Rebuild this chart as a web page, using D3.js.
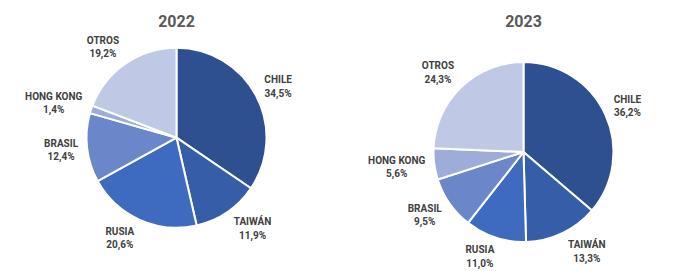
<!DOCTYPE html>
<html>
<head>
<meta charset="utf-8">
<script src="https://cdn.jsdelivr.net/npm/d3@7"></script>
<style>
  body { margin: 0; background: #fff; }
  svg { display: block; }
  .title { font-family: Roboto, "Liberation Sans", sans-serif; font-weight: bold; font-size: 16px; fill: #595959; }
  .lbl { font-family: Roboto, "Liberation Sans", sans-serif; font-weight: bold; font-size: 10px; fill: #404040; }
</style>
</head>
<body>
<svg id="chart" width="700" height="271"></svg>
<script>
var categories = ["CHILE", "TAIWÁN", "RUSIA", "BRASIL", "HONG KONG", "OTROS"];
var years = ["2022", "2023"];
var values2022 = [34.5, 11.9, 20.6, 12.4, 1.4, 19.2];
var values2023 = [36.2, 13.3, 11.0, 9.5, 5.6, 24.3];
var colors = ["#2e5090", "#365ea8", "#3e6bbf", "#6b87c9", "#9dacd9", "#bfc9e6"];

var svg = d3.select("#chart");
var radius = 90;

// layout of the two plot areas
var xs = d3.scalePoint().domain(years).range([176.5, 523.5]);
var cys = { "2022": 137.7, "2023": 152 };
var titleY = 27;

var color = d3.scaleOrdinal().domain(categories).range(colors);
var pie = d3.pie().sort(null).value(function(d) { return d.value; });
var arc = d3.arc().innerRadius(0).outerRadius(radius);

var fmt = function(v) { return v.toFixed(1).replace(".", ",") + "%"; };

var pad = 6, kx = 2.5, ky = 1, lineGap = 13.5;

function drawPie(year, values) {
  var cx = xs(year), cy = cys[year];
  var data = categories.map(function(c, i) { return { name: c, value: values[i] }; });

  svg.append("text")
    .attr("class", "title")
    .attr("x", cx)
    .attr("y", titleY)
    .attr("text-anchor", "middle")
    .text(year);

  var g = svg.append("g").attr("transform", "translate(" + cx + "," + cy + ")");

  var arcs = pie(data);

  g.selectAll("path")
    .data(arcs)
    .enter().append("path")
    .attr("d", arc)
    .attr("fill", function(d) { return color(d.data.name); })
    .attr("stroke", "#fff")
    .attr("stroke-width", 2)
    .attr("stroke-linejoin", "round");

  var labels = g.selectAll("g.label")
    .data(arcs)
    .enter().append("g")
    .attr("class", "label");

  labels.append("text")
    .attr("class", "lbl")
    .attr("text-anchor", "middle")
    .attr("y", -lineGap / 2 + 3.6)
    .text(function(d) { return d.data.name; });

  labels.append("text")
    .attr("class", "lbl")
    .attr("text-anchor", "middle")
    .attr("y", lineGap / 2 + 3.6)
    .text(function(d) { return fmt(d.data.value); });

  // outside "best fit" style: label box pushed just outside the rim along the mid angle
  labels.attr("transform", function(d) {
    var w = 0;
    d3.select(this).selectAll("text").each(function() {
      w = Math.max(w, this.getComputedTextLength());
    });
    w += 6;
    var h = 28;
    var a = (d.startAngle + d.endAngle) / 2;
    var s = Math.sin(a), c = Math.cos(a);
    var R = radius + pad;
    var clamp = function(v) { return Math.max(-1, Math.min(1, v)); };
    var x = s * R + clamp(kx * s) * w / 2;
    var y = -c * R - clamp(ky * c) * h / 2;
    return "translate(" + x + "," + y + ")";
  });
}

drawPie("2022", values2022);
drawPie("2023", values2023);
</script>
</body>
</html>
